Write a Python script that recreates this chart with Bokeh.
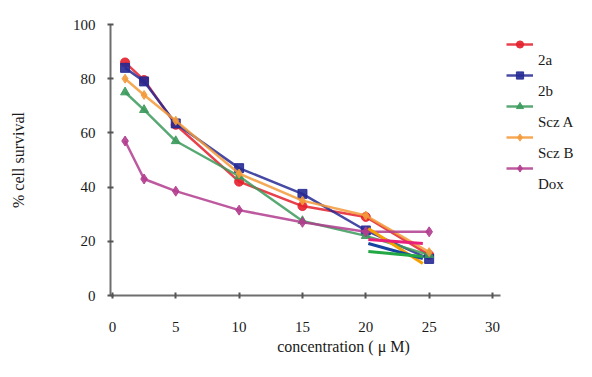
from bokeh.plotting import figure
from bokeh.models import Range1d, FixedTicker, Legend, LegendItem
from bokeh.embed import file_html
from bokeh.resources import INLINE

conc = [1, 2.5, 5, 10, 15, 20, 25]
s_2a = [86, 79.5, 63, 42, 33, 29, 15]
s_2b = [84, 79, 63.5, 47, 37.5, 24, 13.5]
s_sczA = [75, 68.5, 57, 44, 27.5, 22, 15]
s_sczB = [80, 74, 64.5, 45, 35, 29.5, 16]
s_dox = [57, 43, 38.5, 31.5, 27, 23.5, 23.5]

# short overlay segments between 20 and 25
seg_x = [20.2, 24.5]
seg_orange = [24.7, 11.8]
seg_pink = [20.7, 19.2]
seg_blue = [19.2, 13.6]
seg_green = [16.2, 14.4]

x_ticks = [0, 5, 10, 15, 20, 25, 30]
y_ticks = [0, 20, 40, 60, 80, 100]

FONT = "'Liberation Serif', serif"

p = figure(width=576, height=361, output_backend="svg", toolbar_location=None,
           x_range=Range1d(-0.15, 36.63), y_range=Range1d(0, 100),
           min_border_left=110, min_border_right=0, min_border_top=24, min_border_bottom=66)
p.outline_line_color = None
p.grid.visible = False
p.background_fill_color = "white"

for ax in (p.xaxis[0], p.yaxis[0]):
    ax.axis_line_color = "#6e6e6e"
    ax.axis_line_width = 2
    ax.major_tick_line_color = "#555555"
    ax.major_tick_line_width = 2
    ax.major_tick_in = 3
    ax.major_tick_out = 3
    ax.minor_tick_line_color = None
    ax.major_label_text_font = FONT
    ax.major_label_text_font_size = "15px"
    ax.major_label_text_color = "#1a1a1a"
    ax.axis_label_text_font = FONT
    ax.axis_label_text_font_size = "16px"
    ax.axis_label_text_font_style = "normal"
    ax.axis_label_text_color = "#1a1a1a"

p.xaxis.ticker = FixedTicker(ticks=x_ticks)
p.yaxis.ticker = FixedTicker(ticks=y_ticks)
p.xaxis.bounds = (-0.15, 30.6)
p.yaxis.bounds = (0, 100)
p.xaxis.axis_label = "concentration ( \u03bc M)"
p.yaxis.axis_label = "% cell survival"
p.xaxis.major_label_standoff = 23
p.xaxis.axis_label_standoff = 3
p.yaxis.major_label_standoff = 12
p.yaxis.axis_label_standoff = 43

series = [
    ("2a", s_2a, "#e4202c", "circle", 9),
    ("2b", s_2b, "#262a94", "square", 9),
    ("Scz A", s_sczA, "#3c9a5c", "triangle", 9),
    ("Scz B", s_sczB, "#f39a3a", "diamond", 9),
    ("Dox", s_dox, "#b23c8e", "diamond", 10),
]

glyph_items = []
label_items = []
for name, ys, col, mk, sz in series:
    l = p.line(conc, ys, line_color=col, line_width=2.5, line_alpha=0.85)
    s = p.scatter(conc, ys, marker=mk, size=sz, fill_color=col, line_color=col, alpha=0.9)
    glyph_items.append(LegendItem(label=" ", renderers=[l, s]))
    label_items.append(LegendItem(label=name, renderers=[l, s]))

p.line(seg_x, seg_orange, line_color="#f5a000", line_width=3)
p.line(seg_x, seg_pink, line_color="#e8207a", line_width=3)
p.line(seg_x, seg_blue, line_color="#1444a0", line_width=3)
p.line(seg_x, seg_green, line_color="#22a844", line_width=3)

common = dict(border_line_color=None, background_fill_alpha=0, spacing=0,
              padding=0, margin=0, label_height=31, label_text_font=FONT,
              label_text_font_size="15px", label_text_color="#1a1a1a")

legend_glyphs = Legend(items=glyph_items, location=(396, 112), glyph_width=27,
                       glyph_height=18, label_standoff=0, **common)
legend_labels = Legend(items=label_items, location=(428, 95), glyph_width=0,
                       glyph_height=18, label_standoff=0, **common)
p.add_layout(legend_glyphs, "center")
p.add_layout(legend_labels, "center")

open("out.html", "w").write(file_html(p, INLINE))
